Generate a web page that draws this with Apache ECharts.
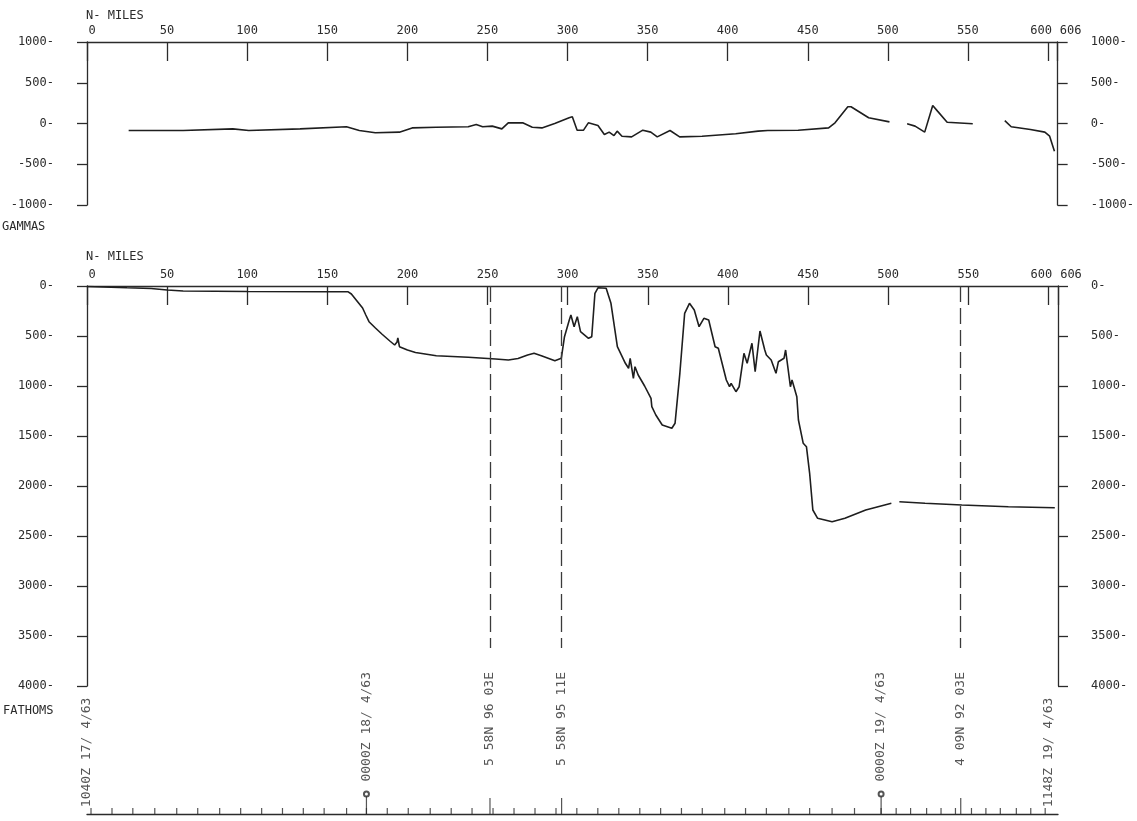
<!DOCTYPE html>
<html><head><meta charset="utf-8">
<script src="https://cdn.jsdelivr.net/npm/echarts@6/dist/echarts.min.js"></script>
<style>html,body{margin:0;padding:0;background:#fff}#c{width:1137px;height:821px}</style>
</head><body><div id="c"></div>
<script>
// ---- data ----
const magMiles   = [26, 60, 91, 101, 133, 162, 170, 180, 195, 203, 218, 238, 243, 247, 253, 259, 263, 272, 278, 284, 292, 301, 303, 306, 310, 313, 319, 323, 326, 329, 331, 334, 340, 347, 352, 356, 364, 370, 384, 405, 419, 425, 444, 463, 467, 475, 477, 488, 501, 506, 512, 517, 523, 528, 531, 537, 553, 563, 573, 577, 589, 598, 601, 604];
const magGammas  = [-86, -86, -66, -86, -66, -40, -86, -114, -106, -54, -46, -40, -12, -40, -32, -66, 8, 8, -46, -54, 0, 70, 82, -82, -82, 8, -24, -136, -106, -148, -94, -156, -164, -82, -106, -164, -86, -164, -156, -126, -94, -86, -82, -54, 8, 206, 206, 70, 20, null, -4, -32, -106, 222, 152, 16, -4, null, 36, -40, -74, -106, -156, -340];

const depthMiles    = [0, 10, 25, 40, 50, 60, 100, 150, 163, 165, 168, 172, 174, 176, 180, 184, 189, 192, 193.5, 194, 195, 200, 205, 218, 238, 255, 263, 269, 275, 279, 284, 292, 296, 298, 301, 302, 304, 306, 308, 313, 315, 317, 319, 324, 327, 331, 336, 338, 339, 341, 342, 344, 348, 352, 352.5, 355, 359, 365, 367, 370, 373, 376, 379, 382, 385, 388, 392, 394, 399, 401, 402, 405, 407, 410, 412, 415, 417, 420, 423, 424, 427, 430, 431.5, 435, 436, 439, 440, 443, 444, 447, 449, 451, 453, 456, 465, 473, 486, 502, 504, 507, 523, 546, 575, 604];
const depthFathoms  = [5, 10, 18, 25, 40, 50, 55, 57, 58, 80, 140, 220, 290, 357, 420, 480, 550, 590, 560, 520, 607, 640, 665, 697, 713, 730, 740, 725, 690, 673, 700, 747, 723, 507, 340, 290, 407, 307, 457, 523, 507, 73, 17, 23, 173, 607, 773, 823, 723, 923, 807, 890, 1000, 1123, 1207, 1290, 1390, 1423, 1373, 873, 273, 173, 240, 407, 323, 340, 607, 623, 940, 1007, 973, 1057, 1007, 673, 773, 573, 857, 450, 640, 690, 740, 873, 757, 723, 640, 1007, 940, 1107, 1340, 1573, 1607, 1873, 2240, 2323, 2357, 2323, 2240, 2173, null, 2157, 2173, 2190, 2207, 2217];

const hourTickMiles = [2.5, 15.6, 28.6, 42.3, 56, 69.1, 82.8, 95.9, 109, 122, 135, 148, 162, 174.4, 187.4, 200.5, 214.2, 227.3, 240.3, 253.4, 266.5, 279.6, 292.7, 305.7, 318.8, 331.9, 345, 358, 371, 384, 398, 411, 424, 438, 451, 465, 479, 495.6, 505, 514, 524, 533, 542, 552, 561, 570, 580, 589, 598];
const dayMarkMiles = [174.4, 495.6];
const fixMiles = [251.5, 296.2, 545.3];
const fixLineDepth = 3620;
const eventMiles  = [0, 174.4, 251.5, 296.2, 495.6, 545.3, 600];
const eventLabels = ['1040Z 17/ 4/63', '0000Z 18/ 4/63', '5 58N 96 03E', '5 58N 95 11E', '0000Z 19/ 4/63', '4 09N 92 03E', '1148Z 19/ 4/63'];
const eventLevels = [0.82, 1, 1, 1, 1, 1, 0.82];

const mileMax = 606, mileStep = 50;
const gammaMin = -1000, gammaMax = 1000, gammaStep = 500;
const fathomMin = 0, fathomMax = 4000, fathomStep = 500;

// ---- chart ----
const FONT = 'DejaVu Sans Mono';
const INK = '#2b2b2b';
const axisLS = {color: INK, width: 1.3};

const magData = magMiles.map((m, i) => [m, magGammas[i] === null ? '-' : magGammas[i]]);
const depthData = depthMiles.map((m, i) => [m, depthFathoms[i] === null ? '-' : depthFathoms[i]]);

const xRich = {
  a: {fontFamily: FONT, fontSize: 12, color: INK, padding: [0, 0, 0, 10]},
  b: {fontFamily: FONT, fontSize: 12, color: INK, padding: [0, 14, 0, 0]},
  c: {fontFamily: FONT, fontSize: 12, color: INK, padding: [0, 0, 0, 26]}
};
function xFmt(v) {
  if (v === 0) return '{a|0}';
  if (v === 600) return '{b|600}';
  if (v === mileMax) return '{c|606}';
  return String(v);
}
function xTop(gi) {
  return {
    gridIndex: gi, type: 'value', position: 'top', min: 0, max: mileMax, interval: mileStep,
    axisLine: {show: true, onZero: false, lineStyle: axisLS},
    axisTick: {show: true, inside: true, length: 19, lineStyle: axisLS},
    axisLabel: {margin: 5, color: INK, fontFamily: FONT, fontSize: 12, formatter: xFmt, rich: xRich},
    splitLine: {show: false}
  };
}
function yAx(gi, pos, mn, mx, st, inv) {
  return {
    gridIndex: gi, type: 'value', position: pos, min: mn, max: mx, interval: st, inverse: inv,
    axisLine: {show: true, onZero: false, lineStyle: axisLS},
    axisTick: {show: true, inside: false, length: 10, lineStyle: axisLS},
    axisLabel: {margin: 33, color: INK, fontFamily: FONT, fontSize: 12, formatter: v => v + '-'},
    splitLine: {show: false}
  };
}

const option = {
  animation: false,
  backgroundColor: '#ffffff',
  grid: [
    {left: 87, right: 79, top: 42, height: 163},
    {left: 87, right: 79, top: 286, height: 400},
    {left: 87, right: 79, top: 672, height: 142}
  ],
  xAxis: [
    xTop(0),
    xTop(1),
    {gridIndex: 2, type: 'value', position: 'bottom', min: 0, max: mileMax,
     axisLine: {show: true, onZero: false, lineStyle: axisLS},
     axisTick: {show: false}, axisLabel: {show: false}, splitLine: {show: false}}
  ],
  yAxis: [
    yAx(0, 'left', gammaMin, gammaMax, gammaStep, false),
    yAx(0, 'right', gammaMin, gammaMax, gammaStep, false),
    yAx(1, 'left', fathomMin, fathomMax, fathomStep, true),
    yAx(1, 'right', fathomMin, fathomMax, fathomStep, true),
    {gridIndex: 2, type: 'value', min: 0, max: 1, show: false}
  ],
  graphic: [
    {type: 'text', left: 86, top: 10, style: {text: 'N- MILES', font: '12px "DejaVu Sans Mono"', fill: INK}},
    {type: 'text', left: 2, top: 221, style: {text: 'GAMMAS', font: '12px "DejaVu Sans Mono"', fill: INK}},
    {type: 'text', left: 86, top: 251, style: {text: 'N- MILES', font: '12px "DejaVu Sans Mono"', fill: INK}},
    {type: 'text', left: 3, top: 705, style: {text: 'FATHOMS', font: '12px "DejaVu Sans Mono"', fill: INK}}
  ],
  series: [
    {type: 'line', xAxisIndex: 0, yAxisIndex: 0, data: magData, showSymbol: false, connectNulls: false,
     lineStyle: {color: '#1e1e1e', width: 1.6}, silent: true},
    {type: 'line', xAxisIndex: 1, yAxisIndex: 2, data: depthData, showSymbol: false, connectNulls: false,
     lineStyle: {color: '#1e1e1e', width: 1.6}, silent: true,
     markLine: {symbol: 'none', silent: true, label: {show: false},
       lineStyle: {type: [16, 6], color: '#3a3a3a', width: 1.3},
       data: fixMiles.map(m => [{coord: [m, fathomMin]}, {coord: [m, fixLineDepth]}])}},
    {type: 'scatter', xAxisIndex: 2, yAxisIndex: 4, clip: false, silent: true,
     data: hourTickMiles.map(m => [m, 0]), symbol: 'rect', symbolSize: [1.2, 6], symbolOffset: [0, -3],
     itemStyle: {color: INK}},
    {type: 'scatter', xAxisIndex: 2, yAxisIndex: 4, clip: false, silent: true,
     data: dayMarkMiles.map(m => [m, 0]), symbol: 'rect', symbolSize: [1.2, 18], symbolOffset: [0, -9],
     itemStyle: {color: INK}},
    {type: 'scatter', xAxisIndex: 2, yAxisIndex: 4, clip: false, silent: true,
     data: dayMarkMiles.map(m => [m, 0]), symbol: 'emptyCircle', symbolSize: 5, symbolOffset: [0, -20],
     itemStyle: {color: INK, borderColor: INK, borderWidth: 1}},
    {type: 'scatter', xAxisIndex: 2, yAxisIndex: 4, clip: false, silent: true,
     data: fixMiles.map(m => [m, 0]), symbol: 'rect', symbolSize: [1.2, 16], symbolOffset: [0, -8],
     itemStyle: {color: INK}},
    {type: 'scatter', xAxisIndex: 2, yAxisIndex: 4, clip: false, silent: true,
     data: eventMiles.map((m, i) => [m, eventLevels[i]]), symbolSize: 0,
     label: {show: true, position: 'inside', rotate: 90, align: 'right', verticalAlign: 'middle',
       fontFamily: FONT, fontSize: 13, color: INK,
       formatter: p => eventLabels[p.dataIndex]}}
  ]
};
const chart = echarts.init(document.getElementById('c'));
chart.setOption(option);
</script>
</body></html>
